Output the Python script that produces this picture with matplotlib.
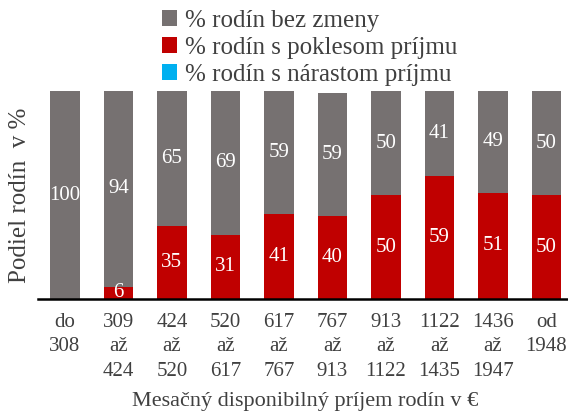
import numpy as np
import matplotlib.pyplot as plt

plt.rcParams['font.family'] = ['Liberation Serif', 'DejaVu Serif']

kategorie = ['do\n308', '309\naž\n424', '424\naž\n520', '520\naž\n617', '617\naž\n767',
             '767\naž\n913', '913\naž\n1122', '1122\naž\n1435', '1436\naž\n1947', 'od\n1948']
pokles = [0, 6, 35, 31, 41, 40, 50, 59, 51, 50]
bez_zmeny = [100, 94, 65, 69, 59, 59, 50, 41, 49, 50]
narast = [0, 0, 0, 0, 0, 0, 0, 0, 0, 0]

c_sivy = '#767171'
c_cerveny = '#C00000'
c_modry = '#00B0F0'

fig = plt.figure(figsize=(5.68, 4.15), dpi=100)
ax = fig.add_axes([0.067, 0.2795, 0.942, 0.5012])

x = np.arange(len(kategorie))
sirka = 0.55
b_pokles = ax.bar(x, pokles, sirka, color=c_cerveny, label='% rodín s poklesom príjmu')
b_narast = ax.bar(x, narast, sirka, bottom=pokles, color=c_modry, label='% rodín s nárastom príjmu')
b_bez = ax.bar(x, bez_zmeny, sirka, bottom=np.array(pokles) + np.array(narast),
               color=c_sivy, label='% rodín bez zmeny')

ax.bar_label(b_bez, labels=[str(v) for v in bez_zmeny], label_type='center',
             color='white', fontsize=15)
ax.bar_label(b_pokles, labels=[str(v) if v > 0 else '' for v in pokles],
             label_type='center', color='white', fontsize=15)

ax.set_xlim(-0.5, len(kategorie) - 0.5)
ax.set_ylim(0, 100)
ax.set_xticks(x)
ax.set_xticklabels(kategorie, fontsize=15, color='#404040', linespacing=1.4)
ax.tick_params(axis='x', length=0, pad=10)
ax.set_yticks([])
for s in ['top', 'right', 'left']:
    ax.spines[s].set_visible(False)
ax.spines['bottom'].set_linewidth(1.8)
ax.set_xlabel('Mesačný disponibilný príjem rodín v €', fontsize=16, color='#404040', labelpad=8)
ax.set_ylabel('Podiel rodín  v %', fontsize=18, color='#404040', labelpad=5)

ax.legend(handles=[b_bez, b_pokles, b_narast], loc='upper center',
          bbox_to_anchor=(0.545, 1.03), bbox_transform=fig.transFigure,
          frameon=False, fontsize=18, handlelength=0.6, handleheight=0.6,
          handletextpad=0.3, labelspacing=0.2, labelcolor='#404040')

fig.savefig('out.png', dpi=100)
